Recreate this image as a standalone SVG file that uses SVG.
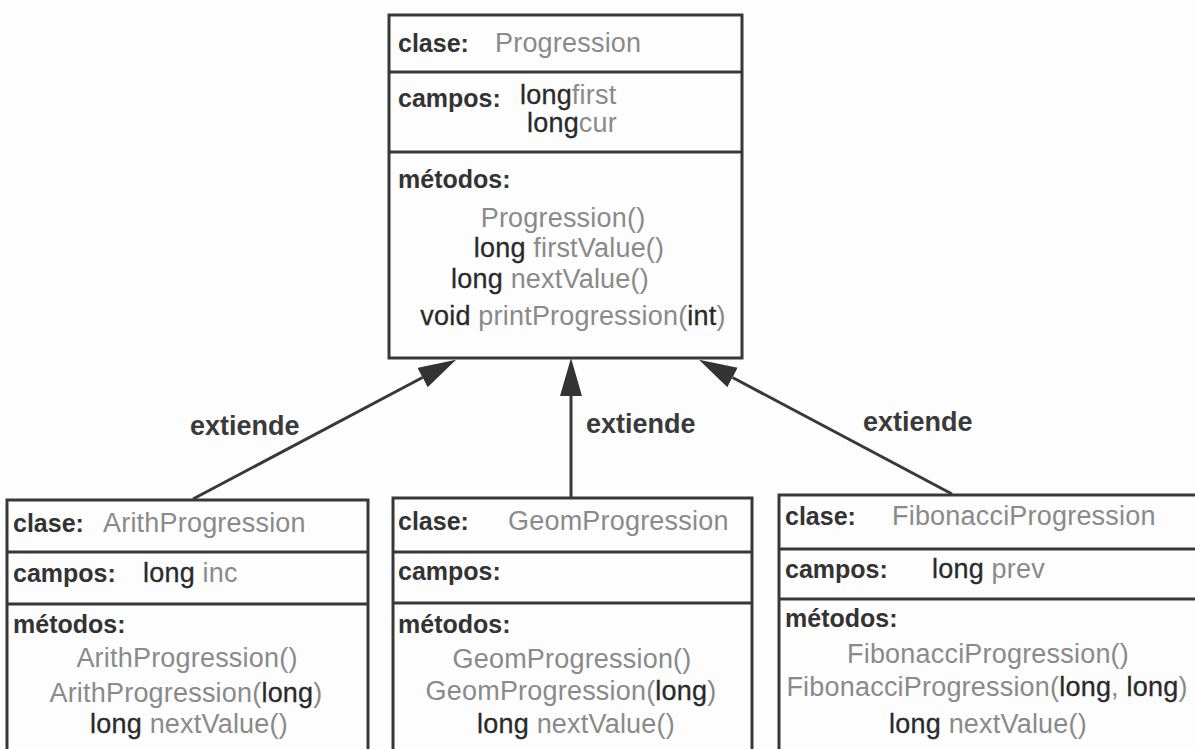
<svg xmlns="http://www.w3.org/2000/svg" width="1195" height="749" viewBox="0 0 1195 749">
<style>
.box{fill:none;stroke:#383838;stroke-width:3}
.div{stroke:#383838;stroke-width:3}
.lbl{font-family:"Liberation Sans",Arial,sans-serif;font-weight:bold;font-size:25px;fill:#333}
.txt{font-family:"Liberation Sans",Arial,sans-serif;font-size:27px;fill:#8a8a8a;letter-spacing:0.2px}
.k{fill:#2a2a2a;stroke:#2a2a2a;stroke-width:0.3}
.ext{font-family:"Liberation Sans",Arial,sans-serif;font-weight:bold;font-size:27px;fill:#3a3a3a}
.conn{stroke:#383838;stroke-width:3;fill:none}
</style>
<defs>
<marker id="head" markerUnits="userSpaceOnUse" markerWidth="40" markerHeight="24" refX="0" refY="11" orient="auto">
<path d="M0,0 L38,11 L0,22 Z" fill="#333"/>
</marker>
</defs>
<rect x="0" y="0" width="1195" height="749" fill="#fdfdfd"/>

<g id="connectors">
<line class="conn" x1="193" y1="499" x2="422.5" y2="377.5" marker-end="url(#head)"/>
<line class="conn" x1="571" y1="497" x2="571" y2="396" marker-end="url(#head)"/>
<line class="conn" x1="952" y1="494" x2="732.5" y2="377.5" marker-end="url(#head)"/>
<text class="ext" x="190" y="435">extiende</text>
<text class="ext" x="586" y="433">extiende</text>
<text class="ext" x="863" y="431">extiende</text>
</g>

<g id="progression">
<rect class="box" x="389" y="15" width="353" height="343"/>
<line class="div" x1="389" y1="72" x2="742" y2="72"/>
<line class="div" x1="389" y1="152" x2="742" y2="152"/>
<text class="lbl" x="398" y="52">clase:</text>
<text class="txt" x="495" y="52">Progression</text>
<text class="lbl" x="398" y="107">campos:</text>
<text class="txt" x="520" y="104"><tspan class="k">long</tspan>first</text>
<text class="txt" x="527" y="132"><tspan class="k">long</tspan>cur</text>
<text class="lbl" x="398" y="188">métodos:</text>
<text class="txt" x="563" y="227" text-anchor="middle">Progression()</text>
<text class="txt" x="569" y="257" text-anchor="middle"><tspan class="k">long</tspan> firstValue()</text>
<text class="txt" x="550" y="288" text-anchor="middle"><tspan class="k">long</tspan> nextValue()</text>
<text class="txt" x="573" y="325" text-anchor="middle"><tspan class="k">void</tspan> printProgression(<tspan class="k">int</tspan>)</text>
</g>

<g id="arith">
<rect class="box" x="7" y="500" width="361" height="280"/>
<line class="div" x1="7" y1="552" x2="368" y2="552"/>
<line class="div" x1="7" y1="604" x2="368" y2="604"/>
<text class="lbl" x="13" y="532">clase:</text>
<text class="txt" x="103" y="532">ArithProgression</text>
<text class="lbl" x="13" y="582">campos:</text>
<text class="txt" x="143" y="582"><tspan class="k">long</tspan> inc</text>
<text class="lbl" x="13" y="633">métodos:</text>
<text class="txt" x="187" y="667" text-anchor="middle">ArithProgression()</text>
<text class="txt" x="186" y="702" text-anchor="middle">ArithProgression(<tspan class="k">long</tspan>)</text>
<text class="txt" x="189" y="733" text-anchor="middle"><tspan class="k">long</tspan> nextValue()</text>
</g>

<g id="geom">
<rect class="box" x="393" y="498" width="359" height="280"/>
<line class="div" x1="393" y1="552" x2="752" y2="552"/>
<line class="div" x1="393" y1="603" x2="752" y2="603"/>
<text class="lbl" x="398" y="530">clase:</text>
<text class="txt" x="508" y="530">GeomProgression</text>
<text class="lbl" x="398" y="580">campos:</text>
<text class="lbl" x="398" y="633">métodos:</text>
<text class="txt" x="572" y="668" text-anchor="middle">GeomProgression()</text>
<text class="txt" x="571" y="700" text-anchor="middle">GeomProgression(<tspan class="k">long</tspan>)</text>
<text class="txt" x="576" y="733" text-anchor="middle"><tspan class="k">long</tspan> nextValue()</text>
</g>

<g id="fibonacci">
<rect class="box" x="779" y="495" width="440" height="290"/>
<line class="div" x1="779" y1="549" x2="1195" y2="549"/>
<line class="div" x1="779" y1="599" x2="1195" y2="599"/>
<text class="lbl" x="785" y="525">clase:</text>
<text class="txt" x="892" y="525">FibonacciProgression</text>
<text class="lbl" x="785" y="578">campos:</text>
<text class="txt" x="932" y="578"><tspan class="k">long</tspan> prev</text>
<text class="lbl" x="785" y="627">métodos:</text>
<text class="txt" x="988" y="663" text-anchor="middle">FibonacciProgression()</text>
<text class="txt" x="987" y="696" text-anchor="middle">FibonacciProgression(<tspan class="k">long</tspan>, <tspan class="k">long</tspan>)</text>
<text class="txt" x="988" y="733" text-anchor="middle"><tspan class="k">long</tspan> nextValue()</text>
</g>
</svg>
